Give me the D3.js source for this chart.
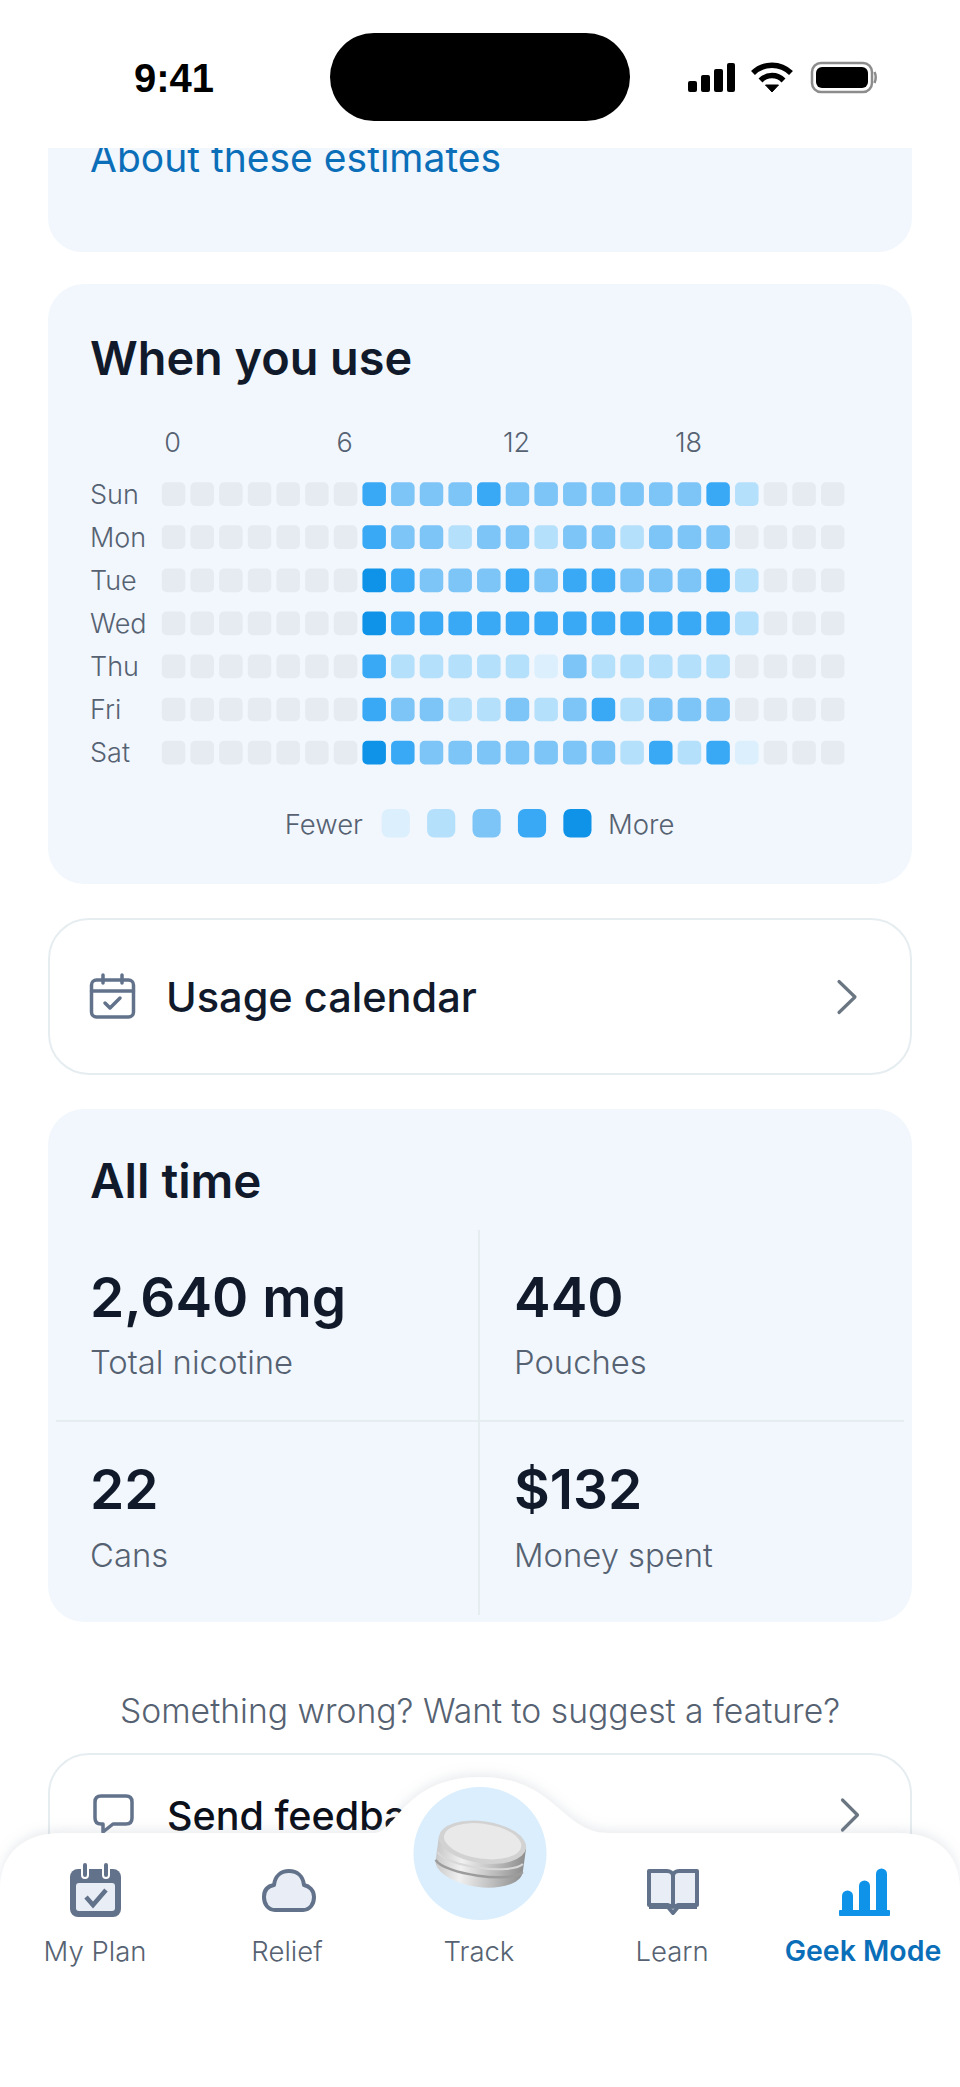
<!DOCTYPE html>
<html>
<head>
<meta charset="utf-8">
<script src="https://cdn.jsdelivr.net/npm/d3@7"></script>
<style>
  html, body { margin: 0; padding: 0; background: #fff; }
  svg { display: block; }
  text { font-family: Inter, "Noto Sans", sans-serif; }
  .axis path, .axis line { display: none; }
  .axis text { font-size: 27px; font-weight: 300; fill: #566272; font-family: Inter, sans-serif; }
</style>
</head>
<body>
<div id="container"></div>
<script>
const days = ['Sun', 'Mon', 'Tue', 'Wed', 'Thu', 'Fri', 'Sat'];
const hours = d3.range(24);
const hourTicks = [0, 6, 12, 18];

// usage level per hour, 0 = none, 5 = most
const sun = [0,0,0,0,0,0,0,4,3,3,3,4,3,3,3,3,3,3,3,4,2,0,0,0];
const mon = [0,0,0,0,0,0,0,4,3,3,2,3,3,2,3,3,2,3,3,3,0,0,0,0];
const tue = [0,0,0,0,0,0,0,5,4,3,3,3,4,3,4,4,3,3,3,4,2,0,0,0];
const wed = [0,0,0,0,0,0,0,5,4,4,4,4,4,4,4,4,4,4,4,4,2,0,0,0];
const thu = [0,0,0,0,0,0,0,4,2,2,2,2,2,1,3,2,2,2,2,2,0,0,0,0];
const fri = [0,0,0,0,0,0,0,4,3,3,2,2,3,2,3,4,2,3,3,3,0,0,0,0];
const sat = [0,0,0,0,0,0,0,5,4,3,3,3,3,3,3,3,2,4,2,4,1,0,0,0];
const usage = [sun, mon, tue, wed, thu, fri, sat];

const levels = [0, 1, 2, 3, 4, 5];
const levelColors = ['#e6ebf1', '#dceffd', '#b5e0fb', '#7dc4f7', '#3aa9f5', '#0e93e8'];
const legendLevels = [1, 2, 3, 4, 5];

const statValues = ['2,640 mg', '440', '22', '$132'];
const statLabels = ['Total nicotine', 'Pouches', 'Cans', 'Money spent'];

const tabs = ['My Plan', 'Relief', 'Track', 'Learn', 'Geek Mode'];

const ink = '#111a2b', gray = '#566272', blue = '#0b6eb8', iconGray = '#62728a', cardBg = '#f1f7fd', lineCol = '#e6edf0';

const width = 960, height = 2087;
const svg = d3.select('#container').append('svg').attr('width', width).attr('height', height);

function addText(g, str, x, y, size, weight, fill, anchor) {
  return g.append('text').attr('x', x).attr('y', y)
    .attr('font-size', size).attr('font-weight', weight)
    .attr('fill', fill).attr('text-anchor', anchor || 'start').text(str);
}

function card(x, y, w, h, r, fill, stroke) {
  svg.append('rect').attr('x', x).attr('y', y).attr('width', w).attr('height', h).attr('rx', r)
    .attr('fill', fill).attr('stroke', stroke || 'none').attr('stroke-width', stroke ? 2 : 0);
}

// cards
card(48, 100, 864, 152, 34, cardBg);
card(48, 284, 864, 600, 36, cardBg);
card(49, 919, 862, 155, 40, '#fff', lineCol);
card(48, 1109, 864, 513, 36, cardBg);
card(49, 1754, 862, 200, 40, '#fff', lineCol);

addText(svg, 'About these estimates', 90, 172, 39, 400, blue);
addText(svg, 'When you use', 90, 375, 46.8, 600, ink);

// heatmap
const x = d3.scaleBand().domain(hours).range([161.8, 844.5]).paddingInner(0.18);
const y = d3.scaleBand().domain(days).range([482.3, 764.4]).paddingInner(0.45);
const color = d3.scaleOrdinal().domain(levels).range(levelColors);

const cells = [];
days.forEach((day, i) => hours.forEach(h => cells.push({ day: day, hour: h, level: usage[i][h] })));

svg.append('g').selectAll('rect').data(cells).enter().append('rect')
  .attr('x', d => x(d.hour))
  .attr('y', d => y(d.day))
  .attr('width', x.bandwidth())
  .attr('height', y.bandwidth())
  .attr('rx', 5)
  .attr('fill', d => color(d.level));

svg.append('g').attr('class', 'axis').attr('transform', 'translate(-1,452)')
  .call(d3.axisTop(x).tickValues(hourTicks).tickSize(0).tickPadding(0));

svg.append('g').attr('class', 'axis').attr('transform', 'translate(90,1)')
  .call(d3.axisLeft(y).tickSize(0))
  .selectAll('text').attr('x', 0).attr('text-anchor', 'start');

// legend
const legendX = d3.scaleBand().domain(legendLevels).range([381.7, 591.5]).paddingInner(0.38);
svg.append('g').selectAll('rect').data(legendLevels).enter().append('rect')
  .attr('x', d => legendX(d))
  .attr('y', 809)
  .attr('width', legendX.bandwidth())
  .attr('height', 28.5)
  .attr('rx', 7)
  .attr('fill', d => color(d));
addText(svg, 'Fewer', 363, 834, 27.5, 300, gray, 'end');
addText(svg, 'More', 608, 834, 27.5, 300, gray);

// usage calendar row
addText(svg, 'Usage calendar', 166, 1012, 41.5, 500, ink);
const calIcon = svg.append('g').attr('transform', 'translate(90,974)').attr('fill', 'none').attr('stroke', iconGray).attr('stroke-width', 3.5).attr('stroke-linecap', 'round').attr('stroke-linejoin', 'round');
calIcon.append('rect').attr('x', 1.5).attr('y', 6).attr('width', 42).attr('height', 37).attr('rx', 5);
calIcon.append('path').attr('d', 'M1.5 17H43.5M13 1V9M32 1V9');
calIcon.append('path').attr('d', 'M15 29L20 34L30 24');
const chevron = (cx, cy, w, h) => svg.append('path')
  .attr('d', `M${cx - w / 2} ${cy - h / 2}L${cx + w / 2} ${cy}L${cx - w / 2} ${cy + h / 2}`)
  .attr('fill', 'none').attr('stroke', '#6b7683').attr('stroke-width', 3.2).attr('stroke-linecap', 'round').attr('stroke-linejoin', 'round');
chevron(847, 997, 16, 31);

// all time
addText(svg, 'All time', 90, 1198, 47.5, 600, ink);
svg.append('path').attr('d', 'M479 1230V1615M56 1421H904').attr('stroke', lineCol).attr('stroke-width', 2).attr('fill', 'none');
const statX = [90, 514, 90, 514];
const statY = [1317, 1317, 1509, 1509];
const labelY = [1374, 1374, 1567, 1567];
statValues.forEach((v, i) => {
  addText(svg, v, statX[i], statY[i], 55, 600, ink);
  addText(svg, statLabels[i], statX[i], labelY[i], 32.8, 300, gray);
});

// feedback
addText(svg, 'Something wrong? Want to suggest a feature?', 480, 1723, 33.7, 300, gray, 'middle');
addText(svg, 'Send feedback', 167, 1830, 39.5, 500, '#0a0f1a');
svg.append('path').attr('d', 'M101 1796H126Q132 1796 132 1802V1818Q132 1824 126 1824H113L103 1832V1824H101Q95 1824 95 1818V1802Q95 1796 101 1796Z')
  .attr('fill', 'none').attr('stroke', iconGray).attr('stroke-width', 3.5).attr('stroke-linejoin', 'round');
chevron(850, 1815, 15, 30);

// tab bar
const defs = svg.append('defs');
const shadow = defs.append('filter').attr('id', 'shadow').attr('x', '-10%').attr('y', '-10%').attr('width', '120%').attr('height', '120%');
shadow.append('feDropShadow').attr('dx', 0).attr('dy', -3).attr('stdDeviation', 6).attr('flood-color', '#8a96a8').attr('flood-opacity', 0.2);
svg.append('path')
  .attr('d', 'M0 1890C0 1852 25 1833 62 1833H375C395 1833 405 1777 480 1777C555 1777 562 1833 608 1833H898C935 1833 960 1852 960 1890V2087H0Z')
  .attr('fill', '#fff').attr('filter', 'url(#shadow)');

svg.append('circle').attr('cx', 480).attr('cy', 1853.5).attr('r', 66.5).attr('fill', '#daeefd');

// pouch can
const silver = defs.append('linearGradient').attr('id', 'silver');
[['0', '#c9c9c9'], ['0.3', '#f0f0f0'], ['0.7', '#bababa'], ['1', '#8f8f8f']].forEach(s => silver.append('stop').attr('offset', s[0]).attr('stop-color', s[1]));
const can = svg.append('g').attr('transform', 'rotate(8 480 1853)');
can.append('path').attr('d', 'M437 1842V1866C437 1878 458 1887 481 1887C504 1887 525 1878 525 1866V1842Z').attr('fill', 'url(#silver)');
can.append('path').attr('d', 'M437 1866C447 1879 515 1879 525 1866').attr('fill', 'none').attr('stroke', '#9c9c9c').attr('stroke-width', 2.5);
can.append('path').attr('d', 'M438 1858C447 1871 514 1871 524 1858').attr('fill', 'none').attr('stroke', '#d8d8d8').attr('stroke-width', 2);
can.append('ellipse').attr('cx', 481).attr('cy', 1842).attr('rx', 44).attr('ry', 21).attr('fill', '#d2d2d2');
can.append('ellipse').attr('cx', 481).attr('cy', 1841).attr('rx', 39).attr('ry', 17.5).attr('fill', '#e9e9e9');

// tab labels
const tabX = [95, 287, 479, 672, 863];
tabs.forEach((t, i) => {
  addText(svg, t, tabX[i], 1961, i === 4 ? 28.5 : 27.5, i === 4 ? 600 : 300, i === 4 ? blue : gray, 'middle');
});

// tab icons
const plan = svg.append('g').attr('transform', 'translate(70,1864)');
plan.append('rect').attr('x', 0).attr('y', 5).attr('width', 51).attr('height', 48).attr('rx', 8).attr('fill', iconGray);
plan.append('rect').attr('x', 6).attr('y', 19).attr('width', 39).attr('height', 28).attr('rx', 3).attr('fill', '#e9eef6');
plan.append('path').attr('d', 'M15 1V11M36 1V11').attr('stroke', '#fff').attr('stroke-width', 8).attr('stroke-linecap', 'round');
plan.append('path').attr('d', 'M15 1V11M36 1V11').attr('stroke', iconGray).attr('stroke-width', 4).attr('stroke-linecap', 'round');
plan.append('path').attr('d', 'M16 33L23 41L36 26').attr('fill', 'none').attr('stroke', iconGray).attr('stroke-width', 4.5);

svg.append('path').attr('d', 'M275 1910H303C310 1910 314 1904 314 1897C314 1890 309 1886 304 1885C303 1876 297 1871 289 1871C281 1871 275 1876 274 1885C268 1886 264 1890 264 1897C264 1904 268 1910 275 1910Z')
  .attr('fill', '#e9eef6').attr('stroke', iconGray).attr('stroke-width', 4).attr('stroke-linejoin', 'round');

const book = svg.append('g').attr('transform', 'translate(647,1869)');
book.append('path').attr('d', 'M2 2H20C23 2 26 4 26 7V38L21 36H2ZM50 2H32C29 2 26 4 26 7V38L31 36H50Z')
  .attr('fill', '#e9eef6').attr('stroke', iconGray).attr('stroke-width', 4).attr('stroke-linejoin', 'round');
book.append('path').attr('d', 'M2 38H21L26 44L31 38H50').attr('fill', 'none').attr('stroke', iconGray).attr('stroke-width', 4).attr('stroke-linejoin', 'round');

const geek = svg.append('g').attr('transform', 'translate(839,1868)').attr('fill', '#0e93e8');
geek.append('rect').attr('x', 0).attr('y', 42).attr('width', 51).attr('height', 6).attr('rx', 1);
geek.append('path').attr('d', 'M3 43V28A5.5 5.5 0 0 1 14 28V43ZM20 43V18A5.5 5.5 0 0 1 31 18V43ZM37 43V6A5.5 5.5 0 0 1 48 6V43Z');

// status bar on top of the scrolled content
svg.append('rect').attr('x', 0).attr('y', 0).attr('width', width).attr('height', 148).attr('fill', '#fff');
svg.append('rect').attr('x', 330).attr('y', 33).attr('width', 300).attr('height', 88).attr('rx', 44).attr('fill', '#000');
addText(svg, '9:41', 174, 92, 40, 600, '#000', 'middle').style('font-family', '"Liberation Sans", sans-serif');
const signal = svg.append('g').attr('transform', 'translate(688,63)').attr('fill', '#000');
signal.append('rect').attr('x', 0).attr('y', 18).attr('width', 9).attr('height', 11).attr('rx', 2);
signal.append('rect').attr('x', 13).attr('y', 12).attr('width', 9).attr('height', 17).attr('rx', 2);
signal.append('rect').attr('x', 26).attr('y', 6).attr('width', 9).attr('height', 23).attr('rx', 2);
signal.append('rect').attr('x', 39).attr('y', 0).attr('width', 8).attr('height', 29).attr('rx', 2);
const wifi = svg.append('g').attr('transform', 'translate(772,92)').attr('fill', 'none').attr('stroke', '#000').attr('stroke-width', 5.5);
wifi.append('path').attr('d', 'M-19 -19A27 27 0 0 1 19 -19');
wifi.append('path').attr('d', 'M-11.5 -11.5A16 16 0 0 1 11.5 -11.5');
wifi.append('path').attr('d', 'M-6.5 -7L0 0L6.5 -7Z').attr('fill', '#000').attr('stroke-width', 1);
svg.append('rect').attr('x', 812).attr('y', 63).attr('width', 60).attr('height', 29).attr('rx', 9).attr('fill', 'none').attr('stroke', '#8c8c8c').attr('stroke-width', 2.5);
svg.append('rect').attr('x', 816).attr('y', 67).attr('width', 52).attr('height', 21).attr('rx', 6).attr('fill', '#000');
svg.append('path').attr('d', 'M874.5 72Q877 77 874.5 83').attr('fill', 'none').attr('stroke', '#8c8c8c').attr('stroke-width', 2.5);
</script>
</body>
</html>
